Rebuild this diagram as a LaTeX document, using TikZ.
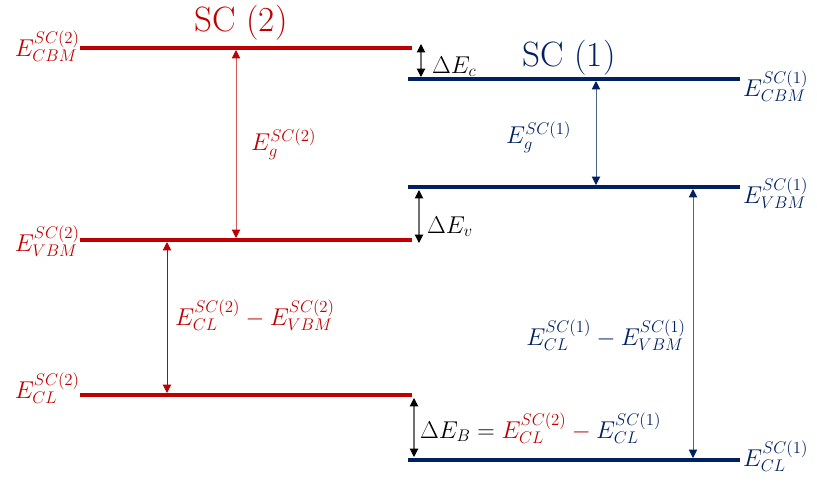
\documentclass[tikz,border=0pt]{standalone}
\usetikzlibrary{arrows.meta}
\definecolor{scred}{HTML}{C00000}
\definecolor{scblue}{HTML}{002060}
\definecolor{arrgray}{HTML}{707070}

\begin{document}
\begin{tikzpicture}[x=0.3mm, y=-0.3mm, font=\fontsize{22}{26}\selectfont,
  lvl/.style={line width=4pt},
  tip/.style={{Triangle[length=2.5mm, width=2.5mm, color=#1]}-{Triangle[length=2.5mm, width=2.5mm, color=#1]}},
  gap/.style={tip=#1, line width=0.8pt},
  dlt/.style={tip=black, arrgray, line width=0.9pt},
  ttl/.style={anchor=base, font=\rmfamily\fontsize{30}{34}\selectfont}
]
  \useasboundingbox (0,0) rectangle (817,481);
  % SC (2) levels
  \coordinate (r1a) at (80,48);  \coordinate (r1b) at (412,48);
  \coordinate (r2a) at (80,240); \coordinate (r2b) at (412,240);
  \coordinate (r3a) at (80,395); \coordinate (r3b) at (412,395);
  \draw[lvl, scred] (r1a) -- (r1b);
  \draw[lvl, scred] (r2a) -- (r2b);
  \draw[lvl, scred] (r3a) -- (r3b);
  % SC (1) levels
  \coordinate (b1a) at (408,79);  \coordinate (b1b) at (740,79);
  \coordinate (b2a) at (408,187); \coordinate (b2b) at (740,187);
  \coordinate (b3a) at (408,460); \coordinate (b3b) at (740,460);
  \draw[lvl, scblue] (b1a) -- (b1b);
  \draw[lvl, scblue] (b2a) -- (b2b);
  \draw[lvl, scblue] (b3a) -- (b3b);

  \node[ttl, scred] (t2) at (241,31) {SC (2)};
  \node[ttl, scblue] (t1) at (569,66) {SC (1)};

  % level labels
  \node[scred, anchor=base east, inner sep=0pt] (lc2) at (80,56) {$E^{SC(2)}_{CBM}$};
  \node[scred, anchor=base east, inner sep=0pt] (lv2) at (80,251) {$E^{SC(2)}_{VBM}$};
  \node[scred, anchor=base east, inner sep=0pt] (ll2) at (80,398) {$E^{SC(2)}_{CL}$};
  \node[scblue, anchor=base west, inner sep=0pt] (lc1) at (743,96) {$E^{SC(1)}_{CBM}$};
  \node[scblue, anchor=base west, inner sep=0pt] (lv1) at (743,203) {$E^{SC(1)}_{VBM}$};
  \node[scblue, anchor=base west, inner sep=0pt] (ll1) at (743,466) {$E^{SC(1)}_{CL}$};

  % gaps
  \coordinate (g2t) at (236,50);  \coordinate (g2b) at (236,238);
  \coordinate (c2t) at (167,242); \coordinate (c2b) at (167,393);
  \coordinate (g1t) at (596,81);  \coordinate (g1b) at (596,185);
  \coordinate (c1t) at (693,189); \coordinate (c1b) at (693,458);
  \draw[gap=scred, scred!65] (g2t) -- (g2b);
  \draw[gap=scred, scred] (c2t) -- (c2b);
  \draw[gap=scblue, scblue!70] (g1t) -- (g1b);
  \draw[gap=scblue, scblue!70] (c1t) -- (c1b);
  \node[scred, anchor=base west, inner sep=0pt] (eg2) at (251,150) {$E^{SC(2)}_{g}$};
  \node[scred, anchor=base west, inner sep=0pt] (dc2) at (175,325) {$E^{SC(2)}_{CL}-E^{SC(2)}_{VBM}$};
  \node[scblue, anchor=base west, inner sep=0pt] (eg1) at (506,143) {$E^{SC(1)}_{g}$};
  \node[scblue, anchor=base east, inner sep=0pt] (dc1) at (686,345) {$E^{SC(1)}_{CL}-E^{SC(1)}_{VBM}$};

  % offsets
  \coordinate (dct) at (421,44);  \coordinate (dcb) at (421,77);
  \coordinate (dvt) at (419,190); \coordinate (dvb) at (419,243);
  \coordinate (dbt) at (414,398); \coordinate (dbb) at (414,457);
  \draw[dlt] (dct) -- (dcb);
  \draw[dlt] (dvt) -- (dvb);
  \draw[dlt] (dbt) -- (dbb);
  \node[anchor=base west, inner sep=0pt] (ec) at (432,73) {$\Delta E_c$};
  \node[anchor=base west, inner sep=0pt] (ev) at (427,233) {$\Delta E_v$};
  \node[anchor=base west, inner sep=0pt] (eb) at (420,438)
    {$\Delta E_B=\textcolor{scred}{E^{SC(2)}_{CL}}\mathbin{\textcolor{scred}{-}}\textcolor{scblue}{E^{SC(1)}_{CL}}$};
\end{tikzpicture}
\end{document}
